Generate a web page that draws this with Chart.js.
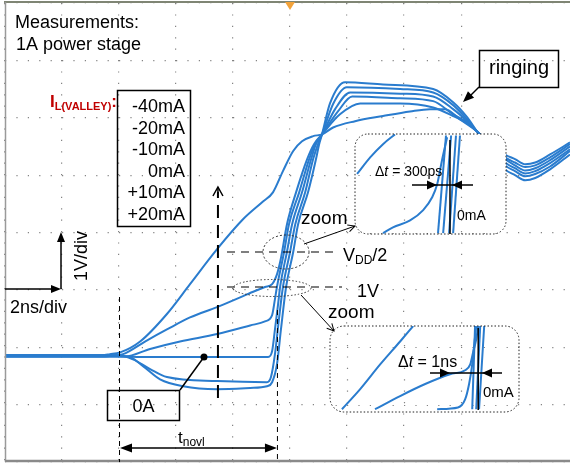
<!DOCTYPE html>
<html>
<head>
<meta charset="utf-8">
<script src="https://cdn.jsdelivr.net/npm/chart.js@4"></script>
<style>
  html, body { margin: 0; padding: 0; background: #fff; }
  #wrap { width: 570px; height: 465px; }
</style>
</head>
<body>
<div id="wrap"><canvas id="scope" width="570" height="465"></canvas></div>
<script>
// Corriente de valle de cada traza (leyenda)
const ilValley = ['-40mA', '-20mA', '-10mA', '0mA', '+10mA', '+20mA'];

// Trazas del osciloscopio: [t (ns), V]
const traceNeg40 = [[0,-0.14],[3.3,-0.14],[3.68,-0.12],[4.04,-0.09],[4.74,0.10],[5.68,0.58],[6.49,1.10],[7.44,1.71],[8.35,2.23],[9.05,2.54],[9.40,2.70],[9.75,3.07],[10.11,3.42],[10.42,3.59],[10.81,3.68],[11.12,3.71],[11.51,3.83],[12.28,3.94],[13.26,4.03],[14.21,4.11],[14.91,4.15],[15.44,4.15],[15.96,3.97],[16.56,3.76],[17.54,3.28],[17.89,3.17],[18.25,3.08],[18.60,3.12],[19.12,3.26],[19.82,3.50]];
const traceNeg20 = [[0,-0.16],[3.5,-0.16],[3.85,-0.14],[4.14,-0.12],[4.91,0.10],[5.68,0.31],[6.49,0.52],[7.44,0.70],[8.25,0.87],[8.77,0.98],[9.12,1.05],[9.37,1.10],[9.54,1.27],[9.65,1.48],[9.72,1.66],[9.89,2.14],[10.21,2.70],[10.60,3.28],[10.84,3.54],[11.12,3.71],[11.75,4.06],[12.46,4.25],[13.86,4.25],[15.02,4.18],[15.72,4.03],[16.21,3.90],[16.56,3.76],[17.54,3.31],[17.89,3.22],[18.25,3.14],[18.60,3.17],[19.12,3.31],[19.82,3.54]];
const traceNeg10 = [[0,-0.14],[3.7,-0.14],[4.21,-0.16],[5.09,-0.03],[6.14,0.10],[7.44,0.23],[8.60,0.38],[9.12,0.45],[9.37,0.56],[9.47,0.84],[9.54,1.05],[9.79,1.66],[9.96,2.14],[10.32,2.70],[10.67,3.28],[10.88,3.54],[11.12,3.71],[11.68,4.11],[12.18,4.37],[13.86,4.34],[15.02,4.29],[15.72,4.06],[16.21,3.92],[16.56,3.76],[17.54,3.22],[17.89,3.12],[18.25,3.03],[18.60,3.07],[19.12,3.21],[19.82,3.45]];
const trace0 = [[0,-0.16],[4.2,-0.16],[4.74,-0.17],[9.23,-0.17],[9.37,-0.07],[9.47,0.31],[9.58,0.75],[9.65,1.05],[9.89,1.66],[10.07,2.14],[10.42,2.70],[10.74,3.28],[10.91,3.54],[11.12,3.71],[11.58,4.15],[12.11,4.44],[13.86,4.42],[15.02,4.37],[15.72,4.15],[16.21,3.94],[16.56,3.76],[17.54,3.36],[17.89,3.28],[18.25,3.19],[18.60,3.22],[19.12,3.36],[19.82,3.57]];
const tracePos10 = [[0,-0.14],[4.0,-0.14],[4.49,-0.21],[5.09,-0.38],[5.68,-0.52],[7.44,-0.59],[9.19,-0.61],[9.33,-0.52],[9.47,-0.12],[9.61,0.49],[9.75,1.05],[10.0,1.66],[10.18,2.14],[10.53,2.70],[10.81,3.28],[10.98,3.54],[11.12,3.71],[11.51,4.24],[11.99,4.53],[13.86,4.50],[15.02,4.44],[15.72,4.22],[16.21,3.97],[16.56,3.76],[17.54,3.17],[17.89,3.07],[18.25,2.98],[18.60,3.02],[19.12,3.15],[19.82,3.42]];
const tracePos20 = [[0,-0.16],[4.3,-0.16],[4.84,-0.33],[5.44,-0.56],[6.25,-0.68],[7.44,-0.73],[8.60,-0.71],[9.19,-0.68],[9.37,-0.61],[9.54,-0.30],[9.68,0.31],[9.86,1.05],[10.11,1.66],[10.28,2.14],[10.63,2.70],[10.91,3.28],[11.02,3.54],[11.12,3.71],[11.40,4.25],[11.93,4.62],[13.26,4.58],[15.02,4.50],[15.72,4.27],[16.21,4.01],[16.56,3.76],[17.54,3.10],[17.89,3.00],[18.25,2.91],[18.60,2.95],[19.12,3.10],[19.82,3.36]];
const traces = [traceNeg40, traceNeg20, traceNeg10, trace0, tracePos10, tracePos20];

// Ampliación en VDD/2 (recuadro superior)
const zoomVddA = [[12.35,3.02],[12.81,3.31],[13.26,3.54],[13.68,3.71]];
const zoomVddB = [[13.26,1.99],[13.61,2.09],[14.21,2.21],[14.67,2.39],[14.98,2.61],[15.16,2.84],[15.33,3.26],[15.51,3.66]];
const zoomVddC = [[15.19,1.99],[15.47,3.69]];
const zoomVddD = [[15.37,1.99],[15.65,3.69]];
const zoomVddE = [[15.58,1.99],[15.82,3.69]];
const zoomVddF = [[15.72,1.99],[15.96,3.69]];
// Ampliación en 1V (recuadro inferior)
const zoom1vA = [[11.82,-1.08],[12.46,-0.73],[13.16,-0.30],[13.86,0.10],[14.32,0.37]];
const zoom1vB = [[12.98,-1.08],[13.86,-0.85],[14.74,-0.64],[15.61,-0.47],[16.14,-0.40],[16.32,-0.30],[16.42,-0.09],[16.53,0.14],[16.60,0.37]];
const zoom1vC = [[15.16,-1.08],[15.89,-1.05],[16.14,-0.91],[16.28,-0.64],[16.39,-0.30],[16.46,0.05],[16.53,0.37]];
const zoom1vD = [[16.39,-1.08],[16.49,0.37]];
const zoom1vE = [[16.53,-1.08],[16.67,0.37]];
const zoom1vF = [[16.63,-1.08],[16.81,0.37]];

const azul = 'rgb(42,124,206)';
const gris = 'rgba(110,110,110,0.85)';
const FAM = '"Liberation Sans", Arial, sans-serif';

const datasets = traces.map((d, i) => ({
    label: ilValley[i], data: d, borderColor: azul, borderWidth: 2,
    pointRadius: 0, showLine: true, cubicInterpolationMode: 'monotone', order: 2
}));
[zoomVddA, zoomVddB, zoomVddC, zoomVddD, zoomVddE, zoomVddF].forEach(d => datasets.push({
    data: d, borderColor: azul, borderWidth: 2, pointRadius: 0, showLine: true,
    cubicInterpolationMode: 'monotone', order: 1, inset: 1
}));
[zoom1vA, zoom1vB, zoom1vC, zoom1vD, zoom1vE, zoom1vF].forEach(d => datasets.push({
    data: d, borderColor: azul, borderWidth: 2, pointRadius: 0, showLine: true,
    cubicInterpolationMode: 'monotone', order: 1, inset: 2
}));

const cajas = {
    1: { l: 355, t: 134, r: 506, b: 234, rad: 13 },
    2: { l: 330, t: 326, r: 519, b: 412, rad: 14 }
};
let hechas = {};

function caminoCaja(ctx, b) {
    ctx.beginPath();
    ctx.roundRect(b.l, b.t, b.r - b.l, b.b - b.t, b.rad);
}

function rejilla(chart, ctx) {
    const a = chart.chartArea, xs = chart.scales.x, ys = chart.scales.y;
    ctx.save();
    ctx.strokeStyle = gris; ctx.lineWidth = 1.2; ctx.setLineDash([1.2, 10.2]);
    xs.ticks.forEach(t => { const p = Math.round(xs.getPixelForValue(t.value)) + 0.5; ctx.beginPath(); ctx.moveTo(p, a.top); ctx.lineTo(p, a.bottom); ctx.stroke(); });
    ys.ticks.forEach(t => { const p = Math.round(ys.getPixelForValue(t.value)) + 0.5; ctx.beginPath(); ctx.moveTo(a.left, p); ctx.lineTo(a.right, p); ctx.stroke(); });
    ctx.restore();
}

function punta(ctx, x, y, ang, len, w, llena) {
    ctx.save();
    ctx.translate(x, y); ctx.rotate(ang);
    ctx.beginPath();
    if (llena) {
        ctx.moveTo(0, 0); ctx.lineTo(-len, -w); ctx.lineTo(-len, w); ctx.closePath(); ctx.fill();
    } else {
        ctx.moveTo(-len, -w); ctx.lineTo(0, 0); ctx.lineTo(-len, w); ctx.stroke();
    }
    ctx.restore();
}

function linea(ctx, x1, y1, x2, y2) {
    ctx.beginPath(); ctx.moveTo(x1, y1); ctx.lineTo(x2, y2); ctx.stroke();
}

// texto por partes (para subíndices)
function partes(ctx, lista, x, y) {
    let cx = x;
    lista.forEach(([s, size, dy, extra]) => {
        ctx.font = (extra || '') + ' ' + size + 'px ' + FAM;
        ctx.fillText(s, cx, y + dy);
        cx += ctx.measureText(s).width;
    });
}

const anotaciones = {
    id: 'anotaciones',
    beforeDatasetsDraw() { hechas = {}; },
    beforeDatasetDraw(chart, args) {
        const ds = chart.data.datasets[args.index];
        if (!ds.inset) return;
        const ctx = chart.ctx, b = cajas[ds.inset];
        if (!hechas[ds.inset]) {
            hechas[ds.inset] = true;
            ctx.save();
            caminoCaja(ctx, b);
            ctx.fillStyle = '#fff'; ctx.fill();
            ctx.clip();
            rejilla(chart, ctx);
            ctx.restore();
        }
        ctx.save();
        caminoCaja(ctx, b);
        ctx.clip();
    },
    afterDatasetDraw(chart, args) {
        if (chart.data.datasets[args.index].inset) chart.ctx.restore();
    },
    afterDatasetsDraw(chart) {
        const ctx = chart.ctx, xs = chart.scales.x, ys = chart.scales.y;
        const X = v => xs.getPixelForValue(v), Y = v => ys.getPixelForValue(v);
        ctx.save();

        // bordes de la pantalla
        ctx.strokeStyle = '#7f8574'; ctx.lineWidth = 2; linea(ctx, 4, 2, 570, 2);
        ctx.strokeStyle = '#9a9a9a'; ctx.lineWidth = 1.5; linea(ctx, 5.5, 2, 5.5, 462);
        ctx.strokeStyle = '#8a8a8a'; ctx.lineWidth = 2.5; linea(ctx, 5, 461, 570, 461);
        ctx.fillStyle = '#f2a23a';
        ctx.beginPath(); ctx.moveTo(285, 2); ctx.lineTo(295, 2); ctx.lineTo(290, 10); ctx.closePath(); ctx.fill();

        ctx.fillStyle = '#000'; ctx.strokeStyle = '#000';
        ctx.textAlign = 'left'; ctx.textBaseline = 'alphabetic';
        ctx.font = '18px ' + FAM;
        ctx.fillText('Measurements:', 15, 28);
        ctx.fillText('1A power stage', 16, 50);

        // I_L(VALLEY)
        ctx.fillStyle = '#c00000';
        partes(ctx, [['I', 17, 0, 'bold'], ['L(VALLEY)', 11, 3, 'bold'], [':', 17, 0, 'bold']], 50, 107);

        // leyenda
        ctx.fillStyle = '#000'; ctx.lineWidth = 1.5;
        ctx.strokeRect(117.5, 90.5, 73, 136);
        ctx.font = '18px ' + FAM; ctx.textAlign = 'right';
        ilValley.forEach((s, i) => ctx.fillText(s, 185, 112 + i * 21.6));
        ctx.textAlign = 'left';

        // flecha vertical discontinua
        ctx.lineWidth = 2; ctx.setLineDash([13, 7]);
        linea(ctx, X(7.47), 398, X(7.47), 192);
        ctx.setLineDash([]); ctx.lineWidth = 1.5;
        punta(ctx, X(7.47), 187, -Math.PI / 2, 9, 5, false);
        linea(ctx, X(7.47), 187, X(7.47), 194);

        // escalas
        ctx.lineWidth = 1.5;
        linea(ctx, 5, 289, 55, 289);
        punta(ctx, 61, 289, 0, 10, 4, true);
        linea(ctx, 61, 289, 61, 240);
        punta(ctx, 61, 232, -Math.PI / 2, 10, 4, true);
        ctx.font = '18px ' + FAM;
        ctx.fillText('2ns/div', 10, 313);
        ctx.save(); ctx.translate(87, 281); ctx.rotate(-Math.PI / 2);
        ctx.fillText('1V/div', 0, 0); ctx.restore();

        // 0A
        ctx.strokeRect(107.5, 390.5, 72, 30);
        ctx.textAlign = 'center'; ctx.fillText('0A', 143.5, 412); ctx.textAlign = 'left';
        const dx = X(6.98), dy = Y(-0.17);
        linea(ctx, 180, 390, dx, dy);
        ctx.beginPath(); ctx.arc(dx, dy, 3.5, 0, Math.PI * 2); ctx.fill();

        // t_novl
        ctx.lineWidth = 1; ctx.setLineDash([5, 4]);
        linea(ctx, X(4) + 0.5, 297, X(4) + 0.5, 462);
        linea(ctx, X(9.54) + 0.5, 310, X(9.54) + 0.5, 462);
        ctx.setLineDash([]); ctx.lineWidth = 1.5;
        linea(ctx, X(4) + 8, 448, X(9.54) - 8, 448);
        punta(ctx, X(4) + 1, 448, Math.PI, 12, 4.5, true);
        punta(ctx, X(9.54), 448, 0, 12, 4.5, true);
        partes(ctx, [['t', 17, 0], ['novl', 12, 3]], 178, 443);

        // niveles VDD/2 y 1V
        ctx.lineWidth = 1.2; ctx.setLineDash([8, 6]);
        linea(ctx, 227, Y(1.66), 338, Y(1.66));
        linea(ctx, 227, Y(1.05), 342, Y(1.05));
        ctx.setLineDash([]);
        partes(ctx, [['V', 18, 0], ['DD', 12, 3], ['/2', 18, 0]], 343, 261);
        ctx.font = '18px ' + FAM; ctx.fillText('1V', 357, 297);

        // elipses
        ctx.strokeStyle = '#333'; ctx.lineWidth = 1; ctx.setLineDash([2, 2]);
        ctx.beginPath(); ctx.ellipse(286, 252, 23, 17, 0, 0, Math.PI * 2); ctx.stroke();
        ctx.setLineDash([1.5, 2]);
        ctx.beginPath(); ctx.ellipse(272, 288, 39, 8.5, 0, 0, Math.PI * 2); ctx.stroke();
        ctx.setLineDash([]); ctx.strokeStyle = '#000';

        // "zoom" y flechas a los recuadros
        ctx.font = '19px ' + FAM;
        ctx.fillText('zoom', 301, 224);
        ctx.fillText('zoom', 328, 318);
        ctx.lineWidth = 1;
        linea(ctx, 304, 244, 355, 226);
        punta(ctx, 355, 226, Math.atan2(226 - 244, 355 - 304), 7, 3.5, false);
        linea(ctx, 301, 295, 334, 331);
        punta(ctx, 334, 331, Math.atan2(331 - 295, 334 - 301), 7, 3.5, false);

        // bordes de los recuadros
        ctx.strokeStyle = '#222'; ctx.lineWidth = 1; ctx.setLineDash([1.5, 2]);
        caminoCaja(ctx, cajas[1]); ctx.stroke();
        caminoCaja(ctx, cajas[2]); ctx.stroke();
        ctx.setLineDash([]); ctx.strokeStyle = '#000';

        // recuadro VDD/2: delta t = 300ps
        ctx.lineWidth = 1.5;
        linea(ctx, X(15.61), 140, X(15.61), 234);
        linea(ctx, 412, 185, 473, 185);
        punta(ctx, 437, 185, 0, 10, 4.5, true);
        punta(ctx, 452, 185, Math.PI, 10, 4.5, true);
        partes(ctx, [['\u0394', 14, 0], ['t', 14, 0, 'italic'], [' = 300ps', 14, 0]], 375, 176);
        ctx.font = '14px ' + FAM; ctx.fillText('0mA', 457, 220);

        // recuadro 1V: delta t = 1ns
        linea(ctx, X(16.6), 328, X(16.6), 410);
        linea(ctx, 430, 373, 502, 373);
        punta(ctx, 450, 373, 0, 10, 4.5, true);
        punta(ctx, 482, 373, Math.PI, 10, 4.5, true);
        partes(ctx, [['\u0394', 16, 0], ['t', 16, 0, 'italic'], [' = 1ns', 16, 0]], 398, 367);
        ctx.font = '15px ' + FAM; ctx.fillText('0mA', 483, 397);

        // ringing
        ctx.lineWidth = 1.5;
        ctx.strokeRect(479.5, 50.5, 79, 37);
        ctx.font = '20px ' + FAM; ctx.textAlign = 'center';
        ctx.fillText('ringing', 519, 74);
        ctx.textAlign = 'left';
        linea(ctx, 479, 87, 468, 98);
        punta(ctx, 463, 102, Math.atan2(102 - 87, 463 - 479), 11, 4.5, true);

        ctx.restore();
    }
};

const ctx = document.getElementById('scope').getContext('2d');
const graficoScope = new Chart(ctx, {
    type: 'scatter',
    data: { datasets: datasets },
    options: {
        responsive: false,
        animation: false,
        devicePixelRatio: 1,
        layout: { padding: { left: 5, top: 3, right: 0, bottom: 3 } },
        plugins: { legend: { display: false }, tooltip: { enabled: false } },
        scales: {
            x: {
                type: 'linear', min: 0, max: 19.82,
                ticks: { display: false, stepSize: 2 },
                afterBuildTicks: s => { s.ticks = s.ticks.filter(t => Math.abs(t.value / 2 - Math.round(t.value / 2)) < 1e-6); },
                grid: { color: gris, lineWidth: 1.2, drawTicks: false },
                border: { display: false, dash: [1.2, 10.2] }
            },
            y: {
                type: 'linear', min: -2, max: 6,
                ticks: { display: false, stepSize: 1 },
                grid: { color: gris, lineWidth: 1.2, drawTicks: false },
                border: { display: false, dash: [1.2, 10.2] }
            }
        }
    },
    plugins: [anotaciones]
});
</script>
</body>
</html>
